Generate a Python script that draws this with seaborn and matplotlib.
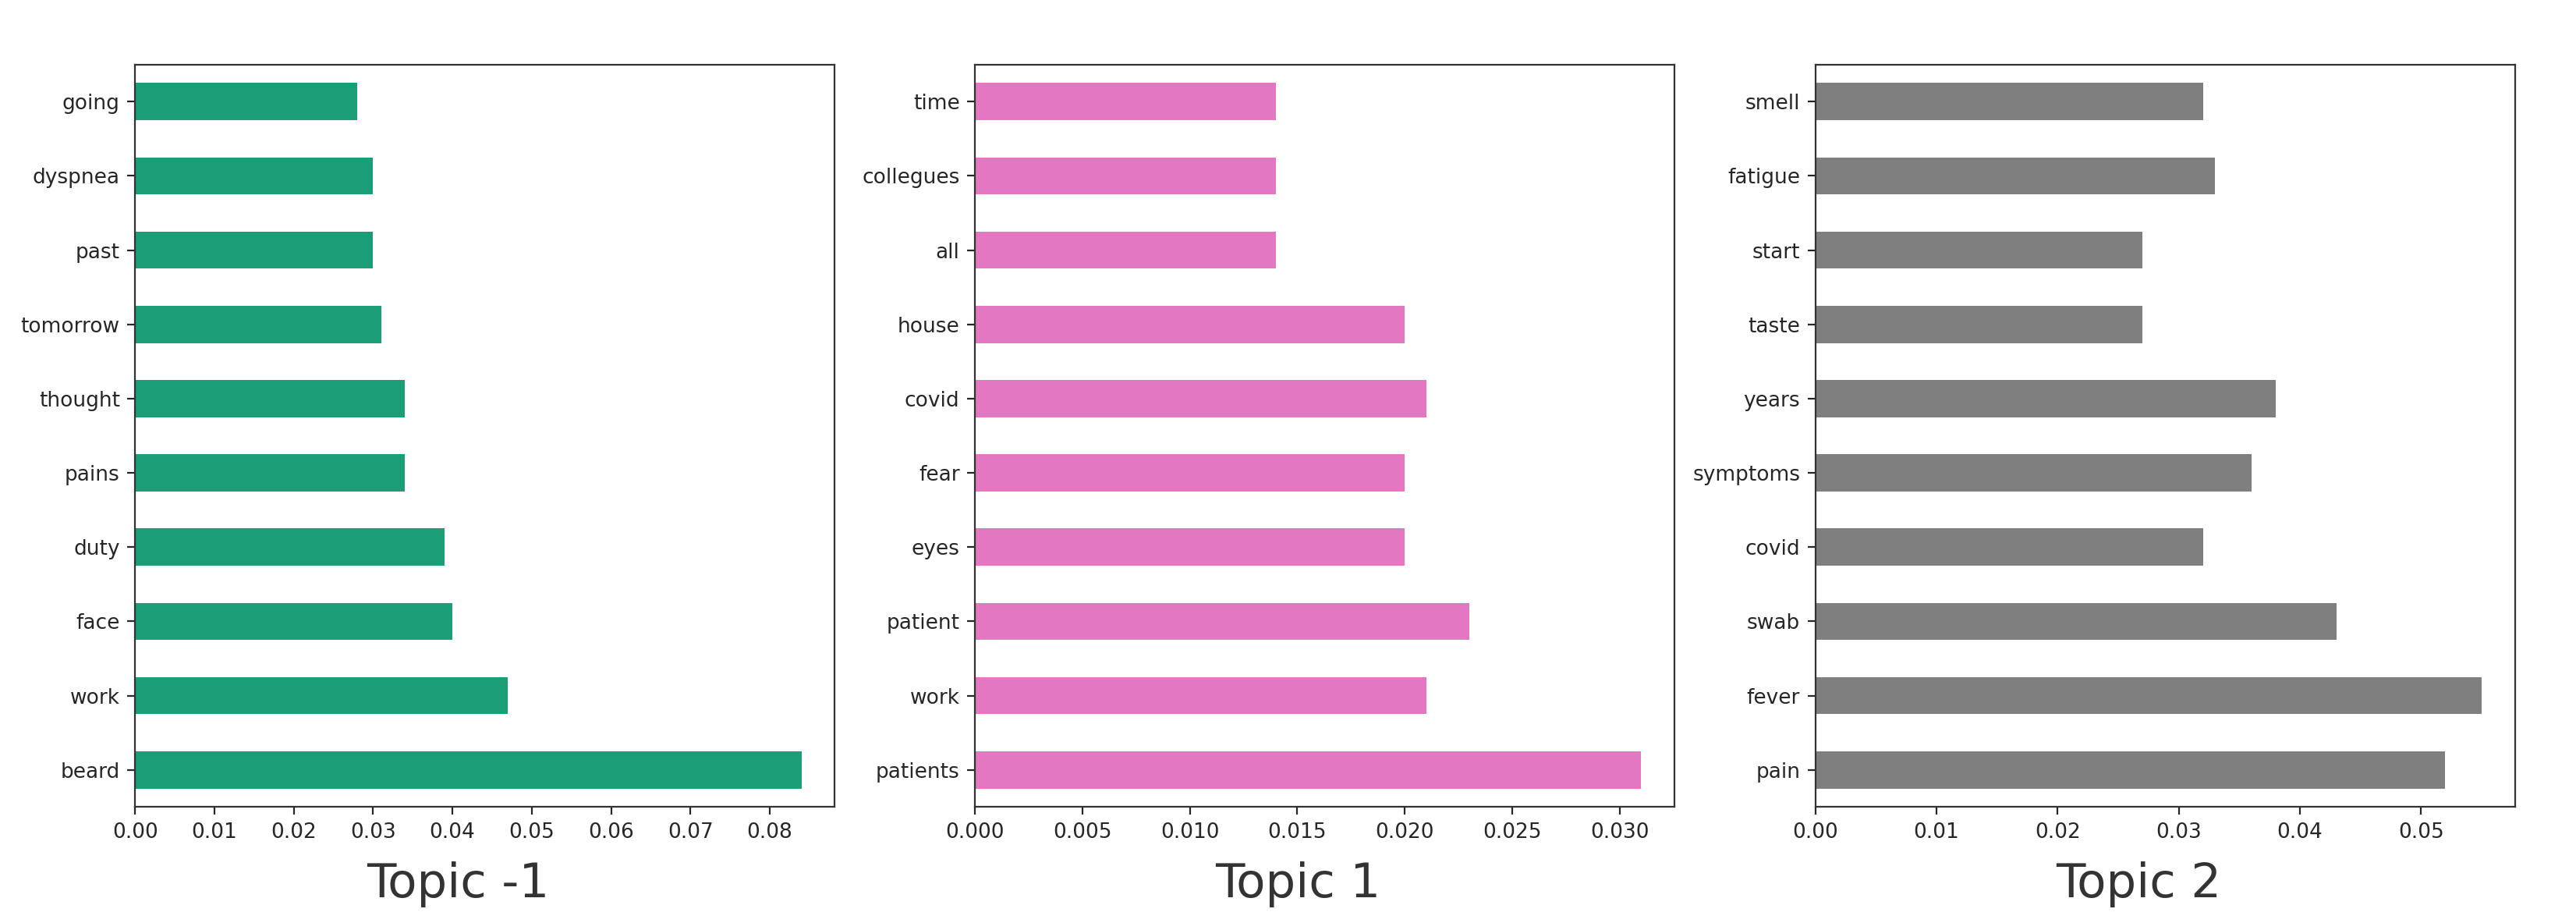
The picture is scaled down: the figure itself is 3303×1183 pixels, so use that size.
import matplotlib
matplotlib.use('Agg')
import matplotlib.pyplot as plt
import seaborn as sns
import pandas as pd

# topic word weights, listed from top to bottom as drawn
words_m1 = ['going', 'dyspnea', 'past', 'tomorrow', 'thought', 'pains', 'duty', 'face', 'work', 'beard']
vals_m1 = [0.028, 0.030, 0.030, 0.031, 0.034, 0.034, 0.039, 0.040, 0.047, 0.084]

words_1 = ['time', 'collegues', 'all', 'house', 'covid', 'fear', 'eyes', 'patient', 'work', 'patients']
vals_1 = [0.014, 0.014, 0.014, 0.020, 0.021, 0.020, 0.020, 0.023, 0.021, 0.031]

words_2 = ['smell', 'fatigue', 'start', 'taste', 'years', 'symptoms', 'covid', 'swab', 'fever', 'pain']
vals_2 = [0.032, 0.033, 0.027, 0.027, 0.038, 0.036, 0.032, 0.043, 0.055, 0.052]

titles = ['Topic -1', 'Topic 1', 'Topic 2']
colors = ['#1b9e77', '#e377c2', '#7f7f7f']

topics = [(words_m1, vals_m1), (words_1, vals_1), (words_2, vals_2)]

plt.rcParams['font.family'] = ['DejaVu Sans']
fig = plt.figure(figsize=(16.515, 5.915), dpi=200)
lefts = [0.05247, 0.37844, 0.70472]
w, b, h = 0.27157, 0.1257, 0.8044

for i, (words, vals) in enumerate(topics):
    ax = fig.add_axes([lefts[i], b, w, h])
    df = pd.DataFrame({'word': words, 'weight': vals})
    sns.barplot(data=df, x='weight', y='word', orient='h', color=colors[i],
                width=0.5, saturation=1, ax=ax)
    ax.set_ylabel('')
    ax.set_xlabel('')
    # 토픽 이름은 축 아래 가운데보다 살짝 왼쪽에
    ax.text(0.462, -0.1216, titles[i], transform=ax.transAxes, ha='center',
            va='baseline', fontsize=22, color='#333333')
    ax.tick_params(labelsize=9.5, colors='#262626')
    for s in ax.spines.values():
        s.set_color('#333333')

fig.savefig('out.png', dpi=200)
